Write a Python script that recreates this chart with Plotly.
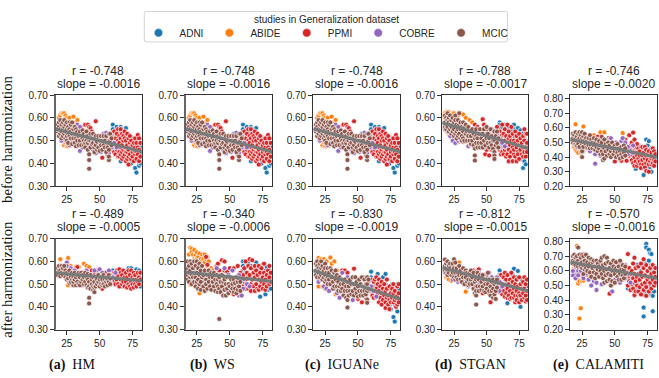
import plotly.graph_objects as go

W, H = 659, 378
studies = ["ADNI", "ABIDE", "PPMI", "COBRE", "MCIC"]
colors = ["#1f77b4", "#ff7f0e", "#d62728", "#9467bd", "#8c564b"]
r_slope = [["-0.748","-0.0016"],["-0.748","-0.0016"],["-0.748","-0.0016"],["-0.788","-0.0017"],["-0.746","-0.0020"],
           ["-0.489","-0.0005"],["-0.340","-0.0006"],["-0.830","-0.0019"],["-0.812","-0.0015"],["-0.570","-0.0016"]]
captions = [("(a)","HM"),("(b)","WS"),("(c)","IGUANe"),("(d)","STGAN"),("(e)","CALAMITI")]
x_ticks = [25, 50, 75]
y_ticks = [0.3, 0.4, 0.5, 0.6, 0.7]
y_ticks_cal = [0.2, 0.3, 0.4, 0.5, 0.6, 0.7, 0.8]
age_range = [16, 82]

# value read per study: {age: [values in hundredths]}
before_hm = [
{60:[57,55,52],61:[50,53],63:[56,49],64:[54],66:[56,41],67:[55,47],68:[53],69:[54],70:[55.5,48],71:[51,44],72:[52,42],74:[51.5,40,43],75:[50,46],76:[51,44],77:[49,38],78:[50,42,36],79:[47,44],80:[48,39,43],81:[47,40,45]},
{19:[60,56],20:[61,52],21:[62,50],22:[62,51],23:[62,48],24:[61,49],25:[60,47.5],26:[59,47.5],27:[60,48],28:[58,48],30:[60.5,49],32:[58,51],33:[59,52],36:[56]},
{39:[57],41:[57],42:[56],43:[55.5],44:[54],47:[58.5],46:[52,48],52:[42.5],55:[51,47],56:[44],58:[52,47],60:[50,46,53],61:[54,48,45],62:[51,44,47],63:[53,49,46],64:[55,50,47,43],65:[52,49,45,43],66:[55,51,47,44],67:[53,48,45,42],68:[52,50,46,43],69:[54,51,47,44],70:[50,47,41,45],71:[53,48,42,45],72:[51,46,39.5,43],73:[52,49,44,47],74:[50,47,42],75:[48,45,43],76:[49,46,41],77:[51,47,44],78:[49,45,42],79:[52.5,47,44],80:[51,46,41],81:[49,43]},
{19:[54,52],21:[50,53],23:[51],25:[49.5,52],27:[48,53],29:[50,56],31:[48.5,55],33:[51,53,57],35:[45.5,56],37:[50,47],39:[52],41:[48,53],43:[50],45:[46,52],47:[44.5,49],49:[47,51],51:[45,52],53:[49,53],55:[46,50,53.5],57:[48,44.5],59:[52,47],61:[49],63:[47]},
{18:[57,54,55],19:[58,52,56],20:[59,55,53],21:[57,54,51],22:[58,55,52],23:[59,56,53],24:[54,51,57],25:[58,55,52,50],26:[56,53,49],27:[58,55,52],28:[54,51,57],29:[58,48.5,53],30:[55,51],31:[53,49,56],32:[51,47.5,55],33:[54,50],34:[52,48],35:[50,54],36:[48,52],37:[51,54.5],38:[48,53,50],39:[49,47],40:[52,50,54],41:[46,49,52],42:[41.5,37.7,44,50],43:[53,47,50],44:[51,48.5],45:[53,49],46:[45,47,51],47:[52,48,50],48:[46,49.5],49:[52,47],50:[50,45.5],51:[48,52],52:[50,46],53:[52,48],54:[50,47],55:[52,45],56:[49,47],57:[53,41.5,43,46],58:[50,53],59:[51,48]},
]
before_stgan = [
{60:[58,57,55],62:[56],64:[57,52],67:[56,41,54],69:[55],71:[57,52],72:[55,45],74:[55.5,51],76:[54.5,44],77:[53,46],78:[53,38,42],79:[51,44,41],80:[50,39.6,47],81:[48,44]},
{18:[62,60],19:[62.5,55],20:[62.5,54],21:[62.5,53],22:[62,54],23:[61,51.5],24:[62,52],25:[62,50],26:[61,50],28:[61,50],29:[62,49.5],30:[62,50],32:[61.5,50],33:[49.5],34:[60],37:[59],39:[58]},
{41:[57],43:[56],45:[55],47:[59.4,47.3],48:[57],49:[44],50:[46,55],52:[43.5,52],54:[46,55],56:[44,48],58:[52,56],60:[54,49,46],61:[52,47,44],62:[57,50,45],63:[53,48,44],64:[55,50,46],65:[52,47,43],66:[57,49,44],67:[54,51,46,41],68:[52,48,43],69:[56,50,45],70:[53,47,41],71:[50,44,46],72:[54,49,43],73:[52,47,41],74:[50,45,44],75:[53,48,42],76:[51,46],77:[49,44],78:[52,47,43],79:[55,50,45],80:[53,47,43],81:[53,49,45]},
{18:[55],20:[54,57],22:[52,56],24:[50,53],26:[49,52,55],28:[50,54],30:[50.5,56],32:[49.5,53],34:[51,55],36:[47.5,53],38:[51,48],40:[53,50],42:[51,48],44:[54,50],46:[49,52],48:[51,47],50:[53,49],52:[48.5,53],54:[47,51],56:[54,50,47],58:[49,53],60:[51,47],62:[49],64:[47.5]},
{18:[61,58,56],19:[60,57,55],20:[59,62,56],21:[60,58,54],22:[61,57,55],23:[59,56,53],24:[60,57,54],25:[58,55,52],26:[61,59,53],27:[57,54,51],28:[59,55,52],29:[62,57,53],30:[55,51,58],31:[56,52,50],32:[58,54,51],33:[56,50],34:[53,57],35:[50,54],36:[56,52],37:[50,54],38:[52,48.5],39:[55,50],40:[53,48],41:[43.5,41.3,51,46.5],42:[55,49,52],43:[47,51],44:[53,49],45:[47,55],46:[51,49],47:[53,47],48:[50,55],49:[48,52],50:[56,51],51:[49,53],52:[47,51],53:[55,49],54:[52,48],55:[50,46.5],56:[45,43.5,42,50,54],57:[52,48],58:[49,54],59:[51,47]},
]
before_calamiti = [
{66:[46,32],67:[44],68:[41],70:[47.5,42],71:[36],72:[27.7,45,34],73:[43],74:[52,32],75:[48,36],76:[51,39,34],77:[44,33],78:[46,30,38],79:[42,34],80:[44,37],81:[40]},
{19:[55,47],20:[62.5,45],21:[44],22:[43,47],23:[55],24:[43],26:[61,44],28:[46],30:[49],34:[55],39:[57],42:[57],56:[56.5]},
{37:[54],40:[52],42:[50],45:[53],50:[37],53:[43],55:[51,37.5],58:[52],59:[37.5,48],60:[44],61:[55,41],62:[48,45],63:[50,42,38],64:[56.8,44,36],65:[52,40,34],66:[47,43,37],67:[49,41,34],68:[46,39,36],69:[44,37,41],70:[47,35,32.5],71:[47,41,38],72:[43,35],73:[47,39,33],74:[45,41,36,30.5],75:[42,38],76:[44,35,30],77:[41,37],78:[43,39,35],79:[46,40,36],80:[44,38,34],81:[42,37]},
{19:[52,49],21:[47],23:[50],25:[43.5,53],27:[48,51],29:[46,53],31:[44,50],33:[47,52],35:[35.5,42,49],37:[44,52],39:[41,48],41:[50,45],43:[47,52],45:[43,50],47:[47,53],49:[42,49],51:[45,50],53:[48,43],55:[51,46],56:[53],58:[45,50],60:[42,47],62:[44],64:[48,43]},
{18:[56,53,50],19:[55,51],20:[57,53,49],21:[54,51,48],22:[56,52,49],23:[57,53,47],24:[55,51],25:[57,53,40,49,44],26:[54,50,47],27:[56,52],28:[53,49],29:[51,47],30:[53,48],31:[55,50,46],32:[48,52],33:[46,50],34:[53,48],35:[50,45],36:[47,52],37:[49,44],38:[51,46],39:[48,42],40:[54,44,50],41:[38,42,47],42:[52,39,46],43:[44,49],44:[41,47],45:[50,45],46:[48,42],47:[44,40],48:[46,50],49:[42,47],50:[44,48],51:[40,46],52:[43,49],53:[46,41],54:[44,39],55:[47,42],56:[45,40],57:[43,48],58:[46,41]},
]
after_hm = [
{60:[56,53],62:[51],66:[49,54],70:[55],72:[57,52],74:[57,50],76:[53],78:[56.5,50],79:[49.5,55],80:[50,56],81:[51,49]},
{20:[61],22:[58],24:[56],26:[61.5,49.5],28:[58,55],30:[57],32:[57.5],34:[57.5],36:[55],38:[59],40:[58],42:[57.5]},
{33:[57.5],37:[55],44:[56],46:[54],48:[56],52:[48,53],54:[55],58:[50],60:[51],61:[55],62:[50,53],63:[56,52],64:[50,54],65:[56.5,49],66:[52,55],67:[50,54],68:[56,51],69:[53,49],70:[55,51],71:[48.5,53],72:[56,50],73:[54,49],74:[51,56,48],75:[53,50],76:[55,52,48.5],77:[50,54],78:[52,49],79:[55,51],80:[53,50],81:[55,52]},
{19:[55,58],22:[54,57],25:[53,59.5,58],28:[52,57],31:[54,56],34:[51,55],37:[53,49.5],40:[56,52],43:[54,50],46:[52,56],49:[54,50],50:[56.5],52:[52,55],55:[53,50],57:[56],58:[54,51],60:[53],62:[55]},
{18:[57,55,54],19:[58,56],20:[56,53.5],21:[58,55],22:[57,54],23:[55,58],24:[56,53],25:[55,52],26:[54,52.5],27:[56,50.5],28:[53,51],29:[55,52],30:[53,49.5,51],31:[55,52],32:[49.5,53],33:[51,54],34:[50,55],35:[53,49.5],36:[51,55],37:[52,54],38:[53,50],39:[51,55],40:[49.5,53],41:[52,54.5,48.5],42:[44,41.5,51,49],43:[54,48],44:[50,52],45:[53,47.5,49],46:[46.5,48.5,51],47:[53,49],48:[50,52],49:[54,51],50:[49,52],51:[53,50],52:[52,49.5],53:[50,54],54:[52,49],55:[51,53],56:[49.5,52],57:[54,51],58:[50,52.5]},
]
after_ws = [
{60:[60,58,56],62:[55],64:[59],66:[58],68:[57],70:[59.5],72:[57],73:[44.5],75:[58.5],77:[45.5,56],78:[57.5,49],79:[47.5],80:[56,52],81:[48,53]},
{19:[63,60],20:[66,50],21:[65.5,64],22:[63],23:[65,61],24:[63],25:[64,61.5],26:[62],27:[63.5,46],28:[61],29:[63,60],30:[61],31:[63,59.5],32:[61],33:[62,58],34:[60],36:[57],37:[56]},
{32:[62],33:[58.5],40:[58],41:[59],42:[56],44:[60.5],46:[60,56],48:[55.5],50:[57],53:[45.5,57],55:[49],56:[58],58:[55],60:[54,49],61:[57,51],62:[60,52,48],63:[55,50],64:[58,53,48],65:[61,54],66:[57,50,47],67:[60.5,52],68:[55,49],69:[58,53,47],70:[56,50],71:[54,48],72:[58,52,47.5],73:[55,49],74:[57,51],75:[53,48],76:[59,55,50],77:[52,47.5],78:[54,49],79:[56,51],80:[58,53,50],81:[55,51]},
{19:[56,53],22:[60,51],25:[54,50],28:[58,49],31:[55,51],34:[52,56],37:[49,54],40:[57,52],43:[54,49],46:[52,57],49:[48,54],52:[50,56],55:[47,53],57:[54,45,50],59:[45],60:[52,48],63:[50],65:[49]},
{18:[60,57,54,52],19:[58,55,51],20:[60,56,53],21:[59,54,50],22:[57,53],23:[60,55,51],24:[58,53,49],25:[55,51,60],26:[57,52,48],27:[59,54,50],28:[56,51,47.5],29:[53,58],30:[54,49],31:[56,47],32:[52,50],33:[54,48],34:[51,56],35:[49,53],36:[55,47.5],37:[51,53],38:[49,55],39:[47,52],40:[50,54],41:[46.5,49,52],42:[34.7,48,53],43:[46.5,51],44:[49,54],45:[45,51],46:[47.5,52],47:[45,50],48:[53,48],49:[50,46],50:[49,53],51:[47,52],52:[50,48],53:[46.5,52],54:[48,50.5],55:[53,46],56:[51,47.5],57:[49,52.5],58:[47,51]},
]
after_iguane = [
{60:[55.5,53],63:[50],65:[54.5],67:[52],69:[53],71:[54.5,50],72:[44],73:[42,48],74:[40.5],75:[39],76:[44,50],77:[35.5,46],78:[33.5,41,47],79:[42],80:[38,50],81:[48,44]},
{19:[60],20:[61.5,49],21:[60],22:[61],23:[49],24:[61],25:[48],26:[60],29:[61.7],30:[59],32:[60],33:[45.5],34:[56]},
{38:[56],40:[56],42:[55],47:[56.8],50:[43.5],53:[42,46],55:[47],56:[44],58:[50],60:[52,47],61:[49,45],62:[51,44],63:[47,52],64:[53,48,44.5],65:[50,46],66:[52,47,42],67:[49,44],68:[51,46,41],69:[48,43],70:[50,45],71:[47,42,39.5],72:[52,48,44],73:[45,41],74:[49,43,39],75:[46,42],76:[48,44],77:[50,46,42],78:[47,43],79:[44,40],80:[49,45,41],81:[50,46,42]},
{18:[55],20:[54,51],22:[52,56],24:[49,54],26:[48,53],28:[51,47],30:[55,50],32:[48,53],34:[51,46],36:[44,52],38:[47,55],40:[50,45],42:[53,48],44:[51,46],46:[43,53],48:[49,46],50:[52,47],52:[50,45],54:[53,46],56:[49,45],58:[51,47],60:[49],62:[47],64:[44.5]},
{18:[59,56,54],19:[60,58,53],20:[57,55],21:[59,56,53],22:[60,57,54],23:[58,55,52],24:[56,53],25:[59,57,54,51],26:[55,52],27:[57,53,50],28:[55,52],29:[57,50],30:[53,56],31:[51,48],32:[55,49],33:[52,56],34:[49,54],35:[51,47],36:[53,49],37:[50,47],38:[52,48],39:[50,45],40:[47,52],41:[44,49],42:[43,39.7,47,51],43:[49,45],44:[52,47],45:[50,45.5],46:[47,53],47:[45,50],48:[53,48],49:[46,51],50:[49,44.5],51:[52,47],52:[45,50],53:[53,47],54:[49,45],55:[52,47],56:[50,45.5],57:[43.2,41.8,47,50,53],58:[48,52]},
]
after_stgan = [
{60:[56,54],64:[52],66:[41.6,51],70:[54],71:[56.8,50],73:[53,46],74:[55.8,44],76:[40,44],77:[47,52],78:[49,44.5],79:[43,51],80:[47,44.5],81:[46,49]},
{19:[53,57],20:[53],21:[52],23:[51.5],25:[56],26:[58.5],29:[59.5],32:[52],34:[46.7],36:[50]},
{40:[56],42:[55.5],44:[56.5],46:[48],47:[46],49:[47.5],50:[54],52:[46],53:[42],55:[46],57:[50],59:[53],60:[51,46.5],61:[54,48],62:[50,45.5],63:[53,47],64:[55,49,44.5],65:[52,46],66:[54,48,44],67:[50,45],68:[52,47,43.5],69:[55,49,44],70:[46,51],71:[53,48,44],72:[50,45,42],73:[52,47,43],74:[49,45],75:[53,46,42],76:[50,45],77:[48,43],78:[51,46],79:[53,48,44],80:[50,45,42.4],81:[52,47,43]},
{18:[57,55],20:[58,54],22:[56,59],24:[54,52],26:[53,57],28:[55,51],30:[53,57],32:[51,55],34:[56,50],36:[49,54],38:[52,55],40:[50,49],42:[53,48],44:[51,55],46:[49,53],48:[51,54],50:[48,52],52:[50,55],54:[53,48],56:[51,46],58:[50,53],60:[47,51],62:[49]},
{18:[60.8,58,56],19:[59,57,55],20:[60,56,54],21:[58,55],22:[59,57],23:[56,54],24:[59,55],25:[61,57,53],26:[59.5,55,52],27:[57,53],28:[55,52],29:[58,54],30:[56,52],31:[54,51],32:[57,53],33:[55,50],34:[53,56],35:[51,55],36:[52,49.5],37:[55,50],38:[52,56],39:[50,53],40:[48,55],41:[51,46],42:[41,45,47,49,52],43:[55,49],44:[47,52],45:[54,49],46:[51,47.5],47:[49,54],48:[52,47],49:[50,46.5],50:[52,48],51:[55,50],52:[47,52],53:[49,45],54:[51,47],55:[52,44,48],56:[45.5,50],57:[43.5,47,51],58:[52,48.5]},
]
after_calamiti = [
{60:[48],62:[52],65:[46],67:[64,53],68:[48],70:[46,60],71:[63,45],72:[35,29,50],73:[56,43.5],74:[78.5,76,65,46],75:[47],76:[74.5,67,52,44],77:[72,60,49],78:[71.5,64,44],79:[32.5,57,43],80:[60,46,52],81:[55]},
{19:[62],20:[57.5,61],21:[77,55],22:[51.5,54],23:[27.5,57,53],24:[34.6,59],25:[53,57],26:[71.5,53.5],28:[60],30:[56]},
{46:[44.5],50:[64],54:[66],58:[60],59:[62],60:[71.5,56,50],61:[62,53],62:[47,58],63:[60,51],64:[65,55,48],65:[69,58,52,43.5],66:[62,53,46],67:[56,50],68:[63,58,46],69:[54,49],70:[65,59,44],71:[56,51],72:[68,62,47],73:[57,52],74:[64,49,43],75:[60,54],76:[56,46],77:[62,52],78:[58,48],79:[64,54],80:[59,50],81:[62,56,52]},
{18:[57,60],20:[63,55],22:[60,57],24:[66,60],26:[64,55],28:[58,62],30:[60,54],32:[50,57],34:[53,63],36:[47,52],38:[60,65],40:[56,51],42:[63,58],44:[53,60],46:[65,56],48:[66,46,51],50:[61,54],52:[59,65],54:[57,52],56:[60,54],58:[64,55],60:[58],62:[52]},
{18:[70,67,65],19:[71,66],20:[69,64],21:[70,66],22:[76,67,63],23:[71,65],24:[69,63],25:[66,62,71],26:[70,64,58],27:[67,61],28:[71,62],29:[66,60],30:[69,63],31:[65,59],32:[68,56],33:[62,66],34:[59,67],35:[63,55],36:[67,58],37:[61,65],38:[56,63],39:[60,67],40:[58,69],41:[64,55],42:[70,60,52],43:[65,57],44:[69,61,53],45:[58,66],46:[62,54],47:[65,50,57],48:[60,53],49:[67,63],50:[58,52],51:[62,66],52:[56,60],53:[63,54],54:[58,67],55:[61,54],56:[57,64],57:[61,55],58:[63,58]},
]
panel_data = [before_hm, before_hm, before_hm, before_stgan, before_calamiti,
              after_hm, after_ws, after_iguane, after_stgan, after_calamiti]
# regression line values at ages 16 and 82
fit_lines = [[.552,.452],[.552,.452],[.552,.452],[.578,.466],[.522,.40],
             [.55,.515],[.553,.512],[.56,.435],[.572,.47],[.66,.55]]
y_ranges = [[.3,.7]]*4 + [[.2,.826]] + [[.3,.7]]*4 + [[.2,.82]]

col_px = [(55,141.7),(185,272),(313.3,400),(442.3,528.3),(570.3,656.7)]
row_px = [(92.7,186.7),(240.7,334.3)]
line_col = "#333333"
SANS = "Liberation Sans"
SERIF = "Liberation Serif"

fig = go.Figure()
anns, shapes = [], []

def px(x): return x / W
def py(y): return 1 - y / H

for i in range(10):
    r, c = divmod(i, 5)
    n = "" if i == 0 else str(i + 1)
    x0, x1 = col_px[c]
    y0, y1 = row_px[r]
    fig.update_layout(**{
        "xaxis" + n: dict(domain=[px(x0), px(x1)], range=age_range, tickvals=x_ticks, anchor="y" + n,
                          showgrid=False, zeroline=False, showline=True, mirror=True, linecolor=line_col,
                          linewidth=1.3, ticks="outside", ticklen=4, tickwidth=1, tickcolor=line_col,
                          tickfont=dict(family=SANS, size=10, color="#262626")),
        "yaxis" + n: dict(domain=[py(y1), py(y0)], range=y_ranges[i], tickformat=".2f", anchor="x" + n,
                          tickvals=y_ticks_cal if c == 4 else y_ticks,
                          showgrid=False, zeroline=False, showline=True, mirror=True, linecolor=line_col,
                          linewidth=1.3, ticks="outside", ticklen=4, tickwidth=1, tickcolor=line_col,
                          tickfont=dict(family=SANS, size=10, color="#262626")),
    })
    for s, series in enumerate(panel_data[i]):
        xs, ys = [], []
        for age, vals in series.items():
            for v in vals:
                xs.append(age)
                ys.append(v / 100)
        fig.add_trace(go.Scatter(x=xs, y=ys, mode="markers", showlegend=False,
                                 xaxis="x" + n, yaxis="y" + n,
                                 marker=dict(size=5, color=colors[s], line=dict(color="white", width=0.7))))
    fig.add_trace(go.Scatter(x=age_range, y=fit_lines[i], mode="lines", showlegend=False,
                             xaxis="x" + n, yaxis="y" + n, line=dict(color="#7a7a7a", width=3.2)))
    cx = (x0 + x1) / 2
    yr = [68, 215.7][r]
    ys_ = [81, 228.4][r]
    anns.append(dict(text=f"r = {r_slope[i][0]}", x=px(cx), y=py(yr), xref="paper", yref="paper", showarrow=False,
                     xanchor="center", yanchor="middle", font=dict(family=SANS, size=12, color="#262626")))
    anns.append(dict(text=f"slope = {r_slope[i][1]}", x=px(cx), y=py(ys_), xref="paper", yref="paper", showarrow=False,
                     xanchor="center", yanchor="middle", font=dict(family=SANS, size=12, color="#262626")))
    if c < 2:
        shapes.append(dict(type="line", xref="paper", yref="paper", x0=px(x0), x1=px(x0), y0=py(y0), y1=py(y1),
                           line=dict(color="#666666", width=2)))

for lab, yc in [("before harmonization", 138), ("after harmonization", 283)]:
    anns.append(dict(text=lab, x=px(7), y=py(yc), xref="paper", yref="paper", showarrow=False, textangle=-90,
                     xanchor="center", yanchor="middle", font=dict(family=SERIF, size=14.8, color="#111111")))

for (a, b), cx in zip(captions, [71.7, 213, 342, 470, 598.7]):
    anns.append(dict(text=f"<b>{a}</b>  {b}", x=px(cx), y=py(371), xref="paper", yref="paper", showarrow=False,
                     xanchor="center", yanchor="middle", font=dict(family=SERIF, size=14, color="#111111")))

# legend frame and title, with the native legend entries inside
lx0, lx1, ly0, ly1, rad = 144.3, 507.5, 6.7, 38, 2
shapes.append(dict(type="path", xref="paper", yref="paper", layer="below",
                   path=(f"M {px(lx0+rad)} {py(ly0)} L {px(lx1-rad)} {py(ly0)} Q {px(lx1)} {py(ly0)} {px(lx1)} {py(ly0+rad)} "
                         f"L {px(lx1)} {py(ly1-rad)} Q {px(lx1)} {py(ly1)} {px(lx1-rad)} {py(ly1)} "
                         f"L {px(lx0+rad)} {py(ly1)} Q {px(lx0)} {py(ly1)} {px(lx0)} {py(ly1-rad)} "
                         f"L {px(lx0)} {py(ly0+rad)} Q {px(lx0)} {py(ly0)} {px(lx0+rad)} {py(ly0)} Z"),
                   line=dict(color="#d4d4d4", width=1), fillcolor="white"))
anns.append(dict(text="studies in Generalization dataset", x=px(326), y=py(14.5), xref="paper", yref="paper",
                 showarrow=False, xanchor="center", yanchor="middle", font=dict(family=SANS, size=10, color="#262626")))

for s, name in enumerate(studies):
    fig.add_trace(go.Scatter(x=[None], y=[None], mode="markers", name=name, showlegend=True,
                             marker=dict(size=8.5, color=colors[s], line=dict(color="white", width=0.5))))

fig.update_layout(
    width=W, height=H, margin=dict(l=0, r=0, t=0, b=0), paper_bgcolor="white", plot_bgcolor="white",
    annotations=anns, shapes=shapes, hovermode=False,
    legend=dict(orientation="h", x=px(325.5), xanchor="center", y=py(28.7), yanchor="middle",
                font=dict(family=SANS, size=10, color="#262626"),
                borderwidth=0, bgcolor="rgba(0,0,0,0)", itemwidth=32),
)
fig.write_html("out.html", config={"displayModeBar": False},
               post_script="document.body.style.margin='0';document.documentElement.style.overflow='hidden';")
